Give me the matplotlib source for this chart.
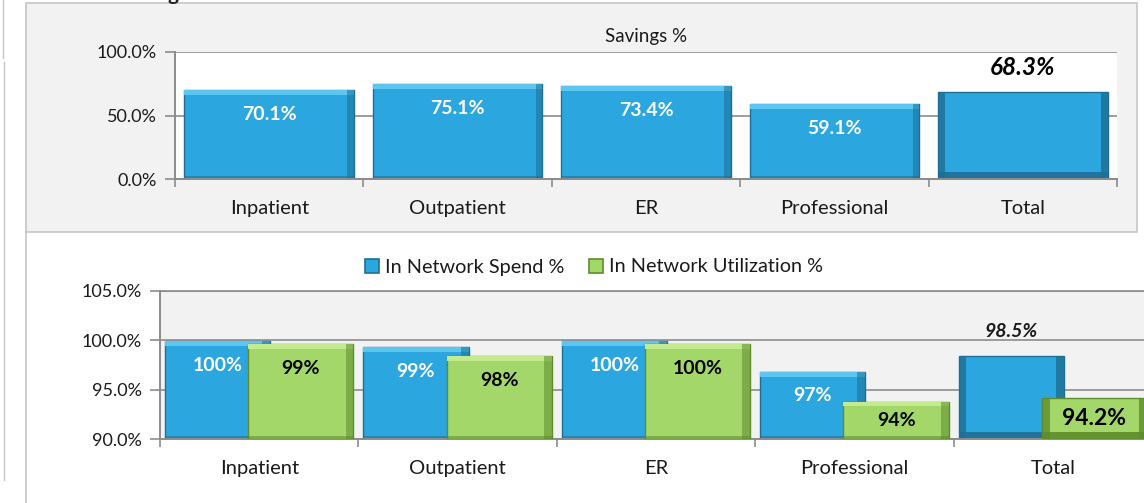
import matplotlib
matplotlib.use("Agg")
import matplotlib.pyplot as plt
from matplotlib.patches import Rectangle
from matplotlib.lines import Line2D
import numpy as np

plt.rcParams['font.family'] = ['Lato', 'DejaVu Sans']

categories = ["Inpatient", "Outpatient", "ER", "Professional", "Total"]
savings = [70.1, 75.1, 73.4, 59.1, 68.3]
savings_labels = ["70.1%", "75.1%", "73.4%", "59.1%", "68.3%"]
spend = [99.9, 99.3, 99.9, 96.8, 98.45]
spend_labels = ["100%", "99%", "100%", "97%", "98.5%"]
util = [99.6, 98.4, 99.6, 93.8, 94.15]
util_labels = ["99%", "98%", "100%", "94%", "94.2%"]
top_ticks = [0, 50, 100]
bot_ticks = [90, 95, 100, 105]

W, H = 1144, 503
fig = plt.figure(figsize=(W / 100, H / 100), dpi=100)
fig.patch.set_facecolor("white")

def fx(px):
    return px / W

def fy(py):
    return 1 - py / H

# panel backgrounds
fig.add_artist(Rectangle((fx(26), fy(232)), fx(1137) - fx(26), fy(3) - fy(232),
                         transform=fig.transFigure, facecolor="#f2f2f2",
                         edgecolor="#c6c6c6", lw=1.2, zorder=-5))
fig.add_artist(Line2D([fx(26), fx(26)], [fy(232), fy(503)], transform=fig.transFigure,
                      color="#c6c6c6", lw=1.2, zorder=-5))
fig.add_artist(Line2D([fx(3), fx(3)], [fy(0), fy(58)], transform=fig.transFigure,
                      color="#c6c6c6", lw=1.0, zorder=-5))
fig.add_artist(Line2D([fx(4), fx(4)], [fy(62), fy(480)], transform=fig.transFigure,
                      color="#c6c6c6", lw=1.0, zorder=-5))
fig.text(fx(118), fy(-6), "Savings", fontsize=15, fontweight="bold", va="center", ha="left",
         color="#222222")

GRID = "#8c8c8c"


def bevel_bar(ax, x, v, base, w, face, light, dark, dx, dy, zorder=2, heavy=False):
    h = v - base
    ax.bar(x, h, bottom=base, width=w, color=face, edgecolor=dark, lw=1.0, zorder=zorder)
    if heavy:
        ax.bar(x - w / 2 + dx / 2, h, bottom=base, width=dx, color=dark, alpha=0.8, lw=0, zorder=zorder + 0.1)
        ax.bar(x + w / 2 - dx / 2, h, bottom=base, width=dx, color=dark, alpha=0.8, lw=0, zorder=zorder + 0.1)
        ax.bar(x, dy * 1.4, bottom=base, width=w, color=dark, alpha=0.9, lw=0, zorder=zorder + 0.2)
    else:
        ax.bar(x, dy, bottom=v - dy, width=w, color=light, lw=0, zorder=zorder + 0.1)
        ax.bar(x + w / 2 - dx / 2, h, bottom=base, width=dx, color=dark, alpha=0.55, lw=0, zorder=zorder + 0.1)
        ax.bar(x, dy * 0.6, bottom=base, width=w, color=dark, alpha=0.55, lw=0, zorder=zorder + 0.1)


def style_axis(ax, ticks, fmt):
    ax.set_xlim(-0.5, len(categories) - 0.5)
    ax.set_yticks(ticks)
    ax.set_yticklabels([fmt(t) for t in ticks], fontsize=13, color="#1a1a1a")
    ax.set_xticks(range(len(categories)))
    ax.set_xticklabels(categories, fontsize=14.5, color="#1a1a1a")
    ax.set_xticks(np.arange(-0.5, len(categories)), minor=True)
    ax.tick_params(axis="x", which="major", length=0, pad=15)
    ax.tick_params(axis="x", which="minor", length=6, color=GRID, width=1.2)
    ax.tick_params(axis="y", length=7, color=GRID, width=1.2, pad=6)
    for s in ["top", "right"]:
        ax.spines[s].set_visible(False)
    for s in ["left", "bottom"]:
        ax.spines[s].set_color(GRID)
        ax.spines[s].set_linewidth(1.4)
    ax.yaxis.grid(True, color=GRID, lw=1.2, zorder=1)
    ax.set_axisbelow(True)


fmt_pct = lambda t: f"{t:.1f}%"

# ---------------- top chart ----------------
ax1 = fig.add_axes([fx(175), fy(179), fx(1117) - fx(175), fy(52) - fy(179)])
ax1.set_facecolor("white")
ax1.set_ylim(0, 100)
style_axis(ax1, top_ticks, fmt_pct)
ax1.set_title("Savings %", fontsize=13.5, color="#1a1a1a", pad=7)

BLUE, BLUE_L, BLUE_D = "#2ba6de", "#5cc6f0", "#1e6e95"
GREEN, GREEN_L, GREEN_D = "#a3d76a", "#c3ea8f", "#5e8c2c"

xs = np.arange(len(categories))
for i, v in enumerate(savings):
    heavy = categories[i] == "Total"
    bevel_bar(ax1, xs[i], v, 0, 0.9, BLUE, BLUE_L, BLUE_D, 0.035, 4.0, heavy=heavy)
    if heavy:
        ax1.annotate(savings_labels[i], (xs[i], v), xytext=(0, 25), textcoords="offset pixels",
                     ha="center", va="center", fontsize=17.5, fontweight="bold", style="italic",
                     color="black", zorder=5)
    else:
        ax1.annotate(savings_labels[i], (xs[i], v), xytext=(0, -25), textcoords="offset pixels",
                     ha="center", va="center", fontsize=14, fontweight="bold",
                     color="white", zorder=5)

# ---------------- bottom chart ----------------
ax2 = fig.add_axes([fx(160), fy(439), fx(1152) - fx(160), fy(291) - fy(439)])
ax2.set_facecolor("#f2f2f2")
ax2.set_ylim(90, 105)
style_axis(ax2, bot_ticks, fmt_pct)
ax2.spines["top"].set_visible(True)
ax2.spines["top"].set_color(GRID)
ax2.spines["top"].set_linewidth(1.2)

bw, off = 0.53, 0.21
px_per_unit = (439 - 291) / 15.0


def label_offset(v, base=90):
    # label 24 px below top, or bar centre if the bar is short
    h_px = (v - base) * px_per_unit
    return -min(24, h_px / 2)


for i in range(len(categories)):
    heavy = categories[i] == "Total"
    bevel_bar(ax2, xs[i] - off, spend[i], 90, bw, BLUE, BLUE_L, BLUE_D, 0.04, 0.5, zorder=2, heavy=heavy)
    bevel_bar(ax2, xs[i] + off, util[i], 90, bw, GREEN, GREEN_L, GREEN_D, 0.04, 0.5, zorder=3, heavy=heavy)
    if heavy:
        ax2.annotate(spend_labels[i], (xs[i] - off, spend[i]), xytext=(0, 24), textcoords="offset pixels",
                     ha="center", va="center", fontsize=14, fontweight="bold", style="italic",
                     color="#1a1a1a", zorder=6)
        ax2.annotate(util_labels[i], (xs[i] + off, util[i]), xytext=(0, label_offset(util[i])),
                     textcoords="offset pixels", ha="center", va="center", fontsize=16.5,
                     fontweight="bold", color="black", zorder=6)
    else:
        ax2.annotate(spend_labels[i], (xs[i] - off, spend[i]), xytext=(0, label_offset(spend[i])),
                     textcoords="offset pixels", ha="center", va="center", fontsize=14,
                     fontweight="bold", color="white", zorder=6)
        ax2.annotate(util_labels[i], (xs[i] + off, util[i]), xytext=(0, label_offset(util[i])),
                     textcoords="offset pixels", ha="center", va="center", fontsize=14,
                     fontweight="bold", color="black", zorder=6)

handles = [Rectangle((0, 0), 1, 1, facecolor=BLUE, edgecolor=BLUE_D, lw=1.2),
           Rectangle((0, 0), 1, 1, facecolor=GREEN, edgecolor=GREEN_D, lw=1.2)]
fig.legend(handles, ["In Network Spend %", "In Network Utilization %"],
           loc="center", bbox_to_anchor=(fx(594), fy(267)), ncol=2, frameon=False,
           fontsize=14.3, handlelength=0.7, handleheight=0.7, handletextpad=0.3,
           columnspacing=1.25, labelcolor="#1a1a1a")

fig.savefig("out.png", dpi=100, facecolor="white")
